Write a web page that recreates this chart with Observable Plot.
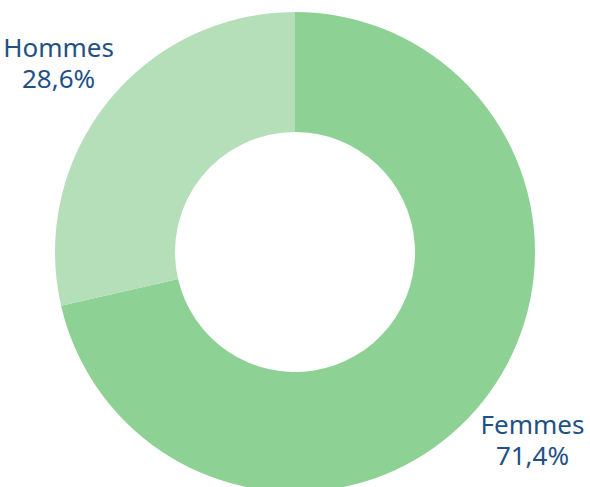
<!DOCTYPE html>
<html>
<head>
<meta charset="utf-8">
<script src="https://cdn.jsdelivr.net/npm/d3@7"></script>
<script src="https://cdn.jsdelivr.net/npm/@observablehq/plot@0.6"></script>
<style>
  html, body { margin: 0; padding: 0; background: #fff; }
  #chart svg { display: block; }
</style>
</head>
<body>
<div id="chart"></div>
<script>
// Data
const categories = ["Femmes", "Hommes"];
const shares = [71.4, 28.6];
const shareLabels = ["71,4%", "28,6%"];
const colors = ["#8dd194", "#b4dfb9"];

const data = categories.map((c, i) => ({ category: c, value: shares[i], pct: shareLabels[i] }));

// Pie layout (clockwise from 12 o'clock)
const arcs = d3.pie().sort(null).value(d => d.value)(data);
const innerRatio = 0.5;
const labelRadius = 1.262;
const labelData = arcs.map(a => {
  const mid = (a.startAngle + a.endAngle) / 2;
  return { name: a.data.category, pct: a.data.pct, x: Math.sin(mid) * labelRadius, y: Math.cos(mid) * labelRadius };
});

const W = 590, H = 487;
const R = 240, CX = 295, CY = 252;

const donutMark = (index, scales) => {
  const cx = scales.x(0), cy = scales.y(0);
  const rad = scales.x(1) - scales.x(0);
  const arcGen = d3.arc().outerRadius(rad).innerRadius(rad * innerRatio);
  const g = d3.create("svg:g").attr("transform", `translate(${cx},${cy})`);
  g.selectAll("path").data(arcs).join("path")
    .attr("d", arcGen)
    .attr("fill", d => scales.color(d.data.category));
  return g.node();
};

const textStyle = { fontSize: 26, fill: "#1f5186", textAnchor: "middle", lineAnchor: "middle" };

const chart = Plot.plot({
  width: W,
  height: H,
  margin: 0,
  x: { domain: [-CX / R, (W - CX) / R], axis: null },
  y: { domain: [-(H - CY) / R, CY / R], axis: null },
  color: { domain: categories, range: colors },
  style: { fontFamily: "'Noto Sans', sans-serif", background: "#fff" },
  marks: [
    donutMark,
    Plot.text(labelData, { x: "x", y: "y", text: "name", dy: -15.5, ...textStyle }),
    Plot.text(labelData, { x: "x", y: "y", text: "pct", dy: 15.5, ...textStyle })
  ]
});
document.getElementById("chart").append(chart);
</script>
</body>
</html>
